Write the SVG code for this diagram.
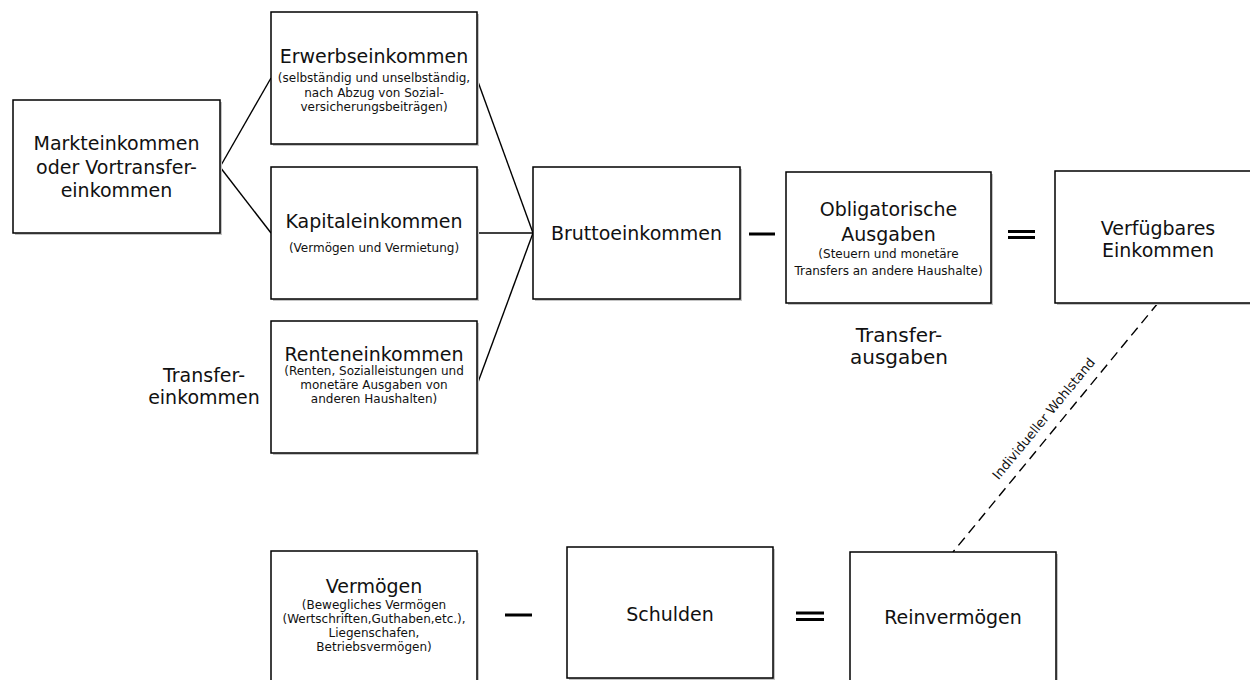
<svg xmlns="http://www.w3.org/2000/svg" width="1250" height="680" viewBox="0 0 1250 680">
<style>
.box{fill:#fff;stroke:#000;stroke-width:1.5}
.sh{fill:#c4c4c4}
.t{font-family:"DejaVu Sans",Verdana,sans-serif;font-size:19px;fill:#111;text-anchor:middle}
.s{font-family:"DejaVu Sans",Verdana,sans-serif;font-size:12px;fill:#111;text-anchor:middle}
.lbl{font-family:"DejaVu Sans",Verdana,sans-serif;font-size:20px;fill:#111;text-anchor:middle}
.ln{stroke:#000;stroke-width:1.4;fill:none}
.op{stroke:#000;stroke-width:3;fill:none}
</style>
<rect width="1250" height="680" fill="#fff"/>
<g id="connectors">
<line class="ln" x1="220" y1="167" x2="271" y2="78"/>
<line class="ln" x1="220" y1="167" x2="271" y2="233"/>
<line class="ln" x1="477" y1="79" x2="533" y2="233"/>
<line class="ln" x1="477" y1="233" x2="533" y2="233"/>
<line class="ln" x1="477" y1="385" x2="533" y2="233"/>
<line class="ln" x1="1158" y1="303" x2="953" y2="552" stroke-dasharray="10,6"/>
<text class="s" style="font-size:13px" transform="translate(1044,419) rotate(-50.5)" y="4">Individueller Wohlstand</text>
</g>
<g id="markteinkommen">
<rect class="sh" x="15" y="102" width="207" height="133"/>
<rect class="box" x="13" y="100" width="207" height="133"/>
<text class="t" x="116.5" y="150">Markteinkommen</text>
<text class="t" x="116.5" y="174">oder Vortransfer-</text>
<text class="t" x="116.5" y="197">einkommen</text>
</g>
<g id="erwerbseinkommen">
<rect class="sh" x="273" y="14" width="206" height="132"/>
<rect class="box" x="271" y="12" width="206" height="132"/>
<text class="t" x="374" y="63">Erwerbseinkommen</text>
<text class="s" x="374" y="82">(selbständig und unselbständig,</text>
<text class="s" x="374" y="97">nach Abzug von Sozial-</text>
<text class="s" x="374" y="111">versicherungsbeiträgen)</text>
</g>
<g id="kapitaleinkommen">
<rect class="sh" x="273" y="169" width="206" height="132"/>
<rect class="box" x="271" y="167" width="206" height="132"/>
<text class="t" x="374" y="228">Kapitaleinkommen</text>
<text class="s" x="374" y="252">(Vermögen und Vermietung)</text>
</g>
<g id="renteneinkommen">
<rect class="sh" x="273" y="323" width="206" height="132"/>
<rect class="box" x="271" y="321" width="206" height="132"/>
<text class="t" x="374" y="361">Renteneinkommen</text>
<text class="s" x="374" y="375">(Renten, Sozialleistungen und</text>
<text class="s" x="374" y="389">monetäre Ausgaben von</text>
<text class="s" x="374" y="403">anderen Haushalten)</text>
</g>
<g id="transfereinkommen">
<text class="lbl" style="font-size:19px" x="204" y="382">Transfer-</text>
<text class="lbl" style="font-size:19px" x="204" y="404">einkommen</text>
</g>
<g id="bruttoeinkommen">
<rect class="sh" x="535" y="169" width="207" height="132"/>
<rect class="box" x="533" y="167" width="207" height="132"/>
<text class="t" x="636.5" y="240">Bruttoeinkommen</text>
</g>
<g id="minus1"><line class="op" x1="749" y1="234" x2="775" y2="234"/></g>
<g id="obligatorische">
<rect class="sh" x="788" y="174" width="205" height="131"/>
<rect class="box" x="786" y="172" width="205" height="131"/>
<text class="t" x="888.5" y="216">Obligatorische</text>
<text class="t" x="888.5" y="241">Ausgaben</text>
<text class="s" x="888.5" y="258">(Steuern und monetäre</text>
<text class="s" x="888.5" y="275">Transfers an andere Haushalte)</text>
</g>
<g id="transferausgaben">
<text class="lbl" x="899" y="342">Transfer-</text>
<text class="lbl" x="899" y="364">ausgaben</text>
</g>
<g id="equal1">
<line class="op" x1="1008" y1="231.5" x2="1035" y2="231.5"/>
<line class="op" x1="1008" y1="237.5" x2="1035" y2="237.5"/>
</g>
<g id="verfuegbares">
<rect class="sh" x="1057" y="173" width="206" height="132"/>
<rect class="box" x="1055" y="171" width="206" height="132"/>
<text class="t" x="1158" y="235">Verfügbares</text>
<text class="t" x="1158" y="257">Einkommen</text>
</g>
<g id="vermoegen">
<rect class="sh" x="273" y="553" width="206" height="132"/>
<rect class="box" x="271" y="551" width="206" height="132"/>
<text class="t" x="374" y="593">Vermögen</text>
<text class="s" x="374" y="609">(Bewegliches Vermögen</text>
<text class="s" x="374" y="623">(Wertschriften,Guthaben,etc.),</text>
<text class="s" x="374" y="637">Liegenschafen,</text>
<text class="s" x="374" y="651">Betriebsvermögen)</text>
</g>
<g id="minus2"><line class="op" x1="505" y1="615" x2="532" y2="615"/></g>
<g id="schulden">
<rect class="sh" x="569" y="549" width="206" height="131"/>
<rect class="box" x="567" y="547" width="206" height="131"/>
<text class="t" x="670" y="621">Schulden</text>
</g>
<g id="equal2">
<line class="op" x1="796" y1="613" x2="824" y2="613"/>
<line class="op" x1="796" y1="619.5" x2="824" y2="619.5"/>
</g>
<g id="reinvermoegen">
<rect class="sh" x="852" y="554" width="206" height="132"/>
<rect class="box" x="850" y="552" width="206" height="132"/>
<text class="t" x="953" y="624">Reinvermögen</text>
</g>
</svg>
